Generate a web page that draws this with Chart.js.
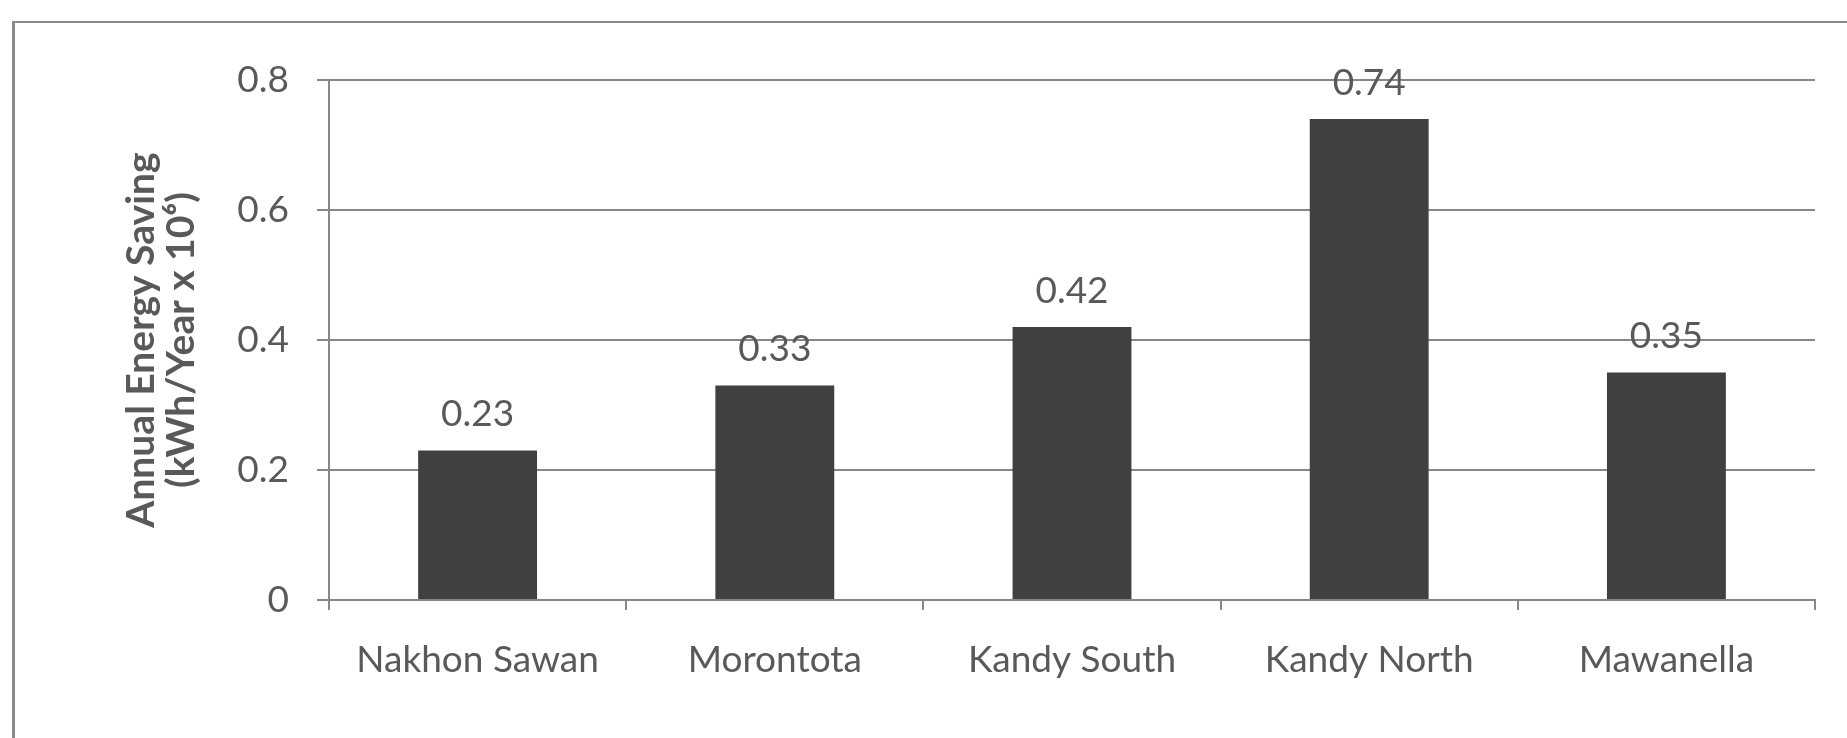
<!DOCTYPE html>
<html>
<head>
<meta charset="utf-8">
<script src="https://cdn.jsdelivr.net/npm/chart.js@4.4.1/dist/chart.umd.min.js"></script>
<style>
  html, body { margin: 0; padding: 0; background: #ffffff; }
  #wrap { position: relative; width: 1847px; height: 738px; overflow: hidden; }
  #frame {
    position: absolute; left: 12px; top: 21px; width: 1900px; height: 800px;
    border-left: 3px solid #8a8a8a; border-top: 2px solid #8a8a8a;
    box-sizing: border-box;
  }
  canvas { position: absolute; left: 0; top: 0; }
</style>
</head>
<body>
<div id="wrap">
  <div id="frame"></div>
  <canvas id="chart" width="1847" height="738"></canvas>
</div>
<script>
// Stations and their annual energy saving (kWh/year x 10^6)
const stations = ['Nakhon Sawan', 'Morontota', 'Kandy South', 'Kandy North', 'Mawanella'];
const savings = [0.23, 0.33, 0.42, 0.74, 0.35];
const yTickValues = [0, 0.2, 0.4, 0.6, 0.8];
const yTickLabels = ['0', '0.2', '0.4', '0.6', '0.8'];
const yTitleLines = ['Annual Energy Saving', '(kWh/Year x 10\u2076)'];

const FONT = 'Lato, "Open Sans", "DejaVu Sans", sans-serif';
const TEXT = '#595959';
const LINE = '#878787';

// Value labels above each bar
const valueLabels = {
  id: 'valueLabels',
  afterDatasetsDraw(chart) {
    const ctx = chart.ctx;
    const meta = chart.getDatasetMeta(0);
    ctx.save();
    ctx.font = '37px ' + FONT;
    ctx.fillStyle = TEXT;
    ctx.textAlign = 'center';
    ctx.textBaseline = 'middle';
    meta.data.forEach((bar, i) => {
      ctx.fillText(savings[i].toFixed(2), bar.x, bar.y - 36);
    });
    ctx.restore();
  }
};

new Chart(document.getElementById('chart'), {
  type: 'bar',
  data: {
    labels: stations,
    datasets: [{
      data: savings,
      backgroundColor: '#404040',
      borderWidth: 0,
      barPercentage: 0.4,
      categoryPercentage: 1.0
    }]
  },
  options: {
    responsive: false,
    animation: false,
    events: [],
    layout: { padding: { left: 0, top: 80, right: 32, bottom: 0 } },
    plugins: { legend: { display: false }, tooltip: { enabled: false } },
    scales: {
      x: {
        afterFit(s) { s.height = 138; },
        grid: {
          offset: true,
          drawOnChartArea: false,
          drawTicks: true,
          tickLength: 10,
          color: LINE,
          lineWidth: 2
        },
        border: { display: true, color: LINE, width: 2 },
        ticks: {
          color: TEXT,
          font: { family: FONT, size: 37 },
          padding: 28,
          maxRotation: 0
        }
      },
      y: {
        min: 0,
        max: 0.8,
        afterFit(s) { s.width = 329; },
        afterBuildTicks(s) { s.ticks = yTickValues.map(v => ({ value: v })); },
        grid: {
          color: LINE,
          lineWidth: 2,
          drawTicks: true,
          tickLength: 12
        },
        border: { display: true, color: LINE, width: 2 },
        ticks: {
          color: TEXT,
          font: { family: FONT, size: 37 },
          padding: 28,
          callback: (v, i) => yTickLabels[i]
        },
        title: {
          display: true,
          text: yTitleLines,
          color: TEXT,
          font: { family: FONT, size: 39, weight: 'bold', lineHeight: 1.03 },
          padding: { top: 121, bottom: 0 }
        }
      }
    }
  },
  plugins: [valueLabels]
});
</script>
</body>
</html>
